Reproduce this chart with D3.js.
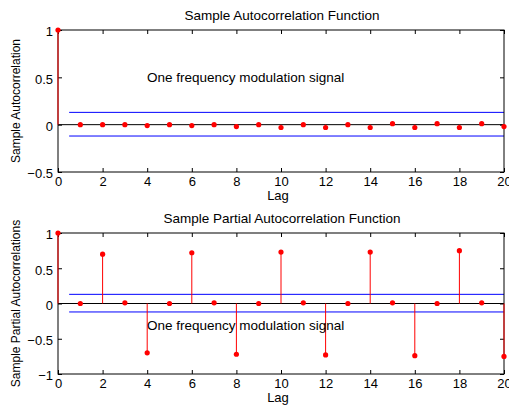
<!DOCTYPE html>
<html><head><meta charset="utf-8">
<script src="https://cdn.jsdelivr.net/npm/d3@7"></script>
<style>
body{margin:0;background:#fff;}
svg{display:block;font-family:"Liberation Sans",Arial,sans-serif;}
</style></head><body>
<svg id="c" width="509" height="412"></svg>
<script>
const lags = d3.range(0, 21);
const acfValues = [1, 0, 0, 0, -0.01, 0, -0.01, 0, -0.02, 0, -0.03, 0, -0.03, 0, -0.03, 0.01, -0.03, 0.01, -0.03, 0.01, -0.02];
const pacfValues = [1, 0, 0.70, 0.01, -0.70, 0, 0.72, 0.01, -0.72, 0, 0.73, 0.01, -0.73, 0, 0.73, 0.01, -0.74, 0, 0.75, 0.01, -0.75];
const acfBounds = [0.13, -0.12];
const pacfBounds = [0.13, -0.12];
const xTicks = [0, 2, 4, 6, 8, 10, 12, 14, 16, 18, 20];
const acfYTicks = [-0.5, 0, 0.5, 1];
const pacfYTicks = [-1, -0.5, 0, 0.5, 1];
const titles = ["Sample Autocorrelation Function", "Sample Partial Autocorrelation Function"];
const yLabels = ["Sample Autocorrelation", "Sample Partial Autocorrelations"];
const xLabel = "Lag";
const note = "One frequency modulation signal";

const svg = d3.select("#c");
const L = 58, R = 504;

function panel(cfg) {
  const x = d3.scaleLinear().domain([0, 20]).range([L, R]);
  const y = d3.scaleLinear().domain(cfg.yDomain).range([cfg.bottom, cfg.top]);
  const g = svg.append("g");

  cfg.bounds.forEach(b => {
    g.append("line").attr("x1", x(0.5)).attr("x2", x(20))
      .attr("y1", y(b)).attr("y2", y(b))
      .attr("stroke", "#0000ff").attr("stroke-width", 1);
  });
  g.append("line").attr("x1", x(0)).attr("x2", x(20)).attr("y1", y(0)).attr("y2", y(0))
    .attr("stroke", "#000").attr("stroke-width", 1);

  const ax = (gen, tr) => {
    const a = g.append("g").attr("transform", tr).call(gen);
    a.select(".domain").remove();
    a.selectAll("text").attr("font-size", "13px").attr("font-family", "Liberation Sans, Arial, sans-serif").attr("fill", "#000");
    a.selectAll("line").attr("stroke", "#000");
    return a;
  };
  ax(d3.axisBottom(x).tickValues(xTicks).tickSizeInner(-4).tickSizeOuter(0).tickPadding(5).tickFormat(d3.format("d")), `translate(0,${cfg.bottom})`);
  ax(d3.axisTop(x).tickValues(xTicks).tickSizeInner(-4).tickSizeOuter(0).tickFormat(""), `translate(0,${cfg.top})`);
  const ya = ax(d3.axisLeft(y).tickValues(cfg.yTicks).tickSizeInner(-4).tickSizeOuter(0).tickPadding(5).tickFormat(d => d3.format("")(d)), `translate(${L},0)`);
  ya.selectAll("text").attr("dy", "0.45em");
  ax(d3.axisRight(y).tickValues(cfg.yTicks).tickSizeInner(-4).tickSizeOuter(0).tickFormat(""), `translate(${R},0)`);

  g.append("rect").attr("x", L).attr("y", cfg.top).attr("width", R - L).attr("height", cfg.bottom - cfg.top)
    .attr("fill", "none").attr("stroke", "#000").attr("stroke-width", 1);

  g.selectAll(".stem").data(cfg.values).enter().append("line")
    .attr("x1", (d, i) => x(lags[i])).attr("x2", (d, i) => x(lags[i]))
    .attr("y1", y(0)).attr("y2", d => y(d))
    .attr("stroke", "#ff0000").attr("stroke-width", 1);
  g.selectAll(".dot").data(cfg.values).enter().append("circle")
    .attr("cx", (d, i) => x(lags[i])).attr("cy", d => y(d)).attr("r", 2.6)
    .attr("fill", "#ff0000");

  g.append("text").attr("x", (L + R) / 2 + 1).attr("y", cfg.top - 10).attr("text-anchor", "middle")
    .attr("font-size", "13.5px").text(cfg.title);
  g.append("text").attr("transform", `translate(20,${(cfg.top + cfg.bottom) / 2}) rotate(-90)`)
    .attr("text-anchor", "middle").attr("font-size", "12px").text(cfg.yLabel);
  g.append("text").attr("x", (L + R) / 2 - 3).attr("y", cfg.bottom + 28).attr("text-anchor", "middle")
    .attr("font-size", "13px").text(xLabel);
  g.append("text").attr("x", 147).attr("y", cfg.noteY).attr("font-size", "13.5px").text(note);
}

panel({top: 30, bottom: 172, yDomain: [-0.5, 1], yTicks: acfYTicks, values: acfValues, bounds: acfBounds,
  title: titles[0], yLabel: yLabels[0], noteY: 82});
panel({top: 233, bottom: 374, yDomain: [-1, 1], yTicks: pacfYTicks, values: pacfValues, bounds: pacfBounds,
  title: titles[1], yLabel: yLabels[1], noteY: 330});
</script>
</body></html>
